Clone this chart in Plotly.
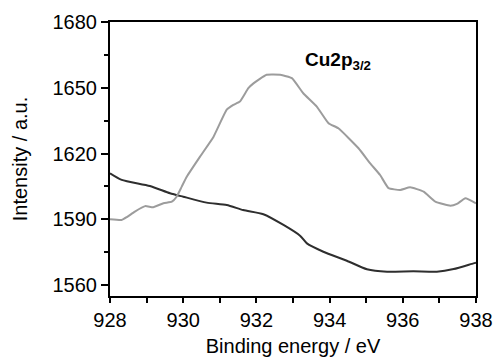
import plotly.graph_objects as go

# Gray curve (Cu2p3/2 peak)
x_peak = [928.0, 928.32, 928.46, 928.68, 928.96, 929.18, 929.46, 929.69, 929.82, 929.96,
          930.1, 930.46, 930.83, 931.19, 931.37, 931.55, 931.78, 931.92, 932.28, 932.65,
          932.97, 933.28, 933.65, 933.97, 934.24, 934.79, 935.11, 935.38, 935.61, 935.93,
          936.2, 936.57, 936.89, 937.3, 937.48, 937.71, 938.0]
y_peak = [1590.0, 1589.7, 1591.0, 1593.5, 1596.0, 1595.5, 1597.3, 1598.0, 1600.3, 1604.9,
          1609.5, 1618.6, 1627.7, 1640.0, 1642.2, 1643.7, 1649.8, 1652.0, 1655.9, 1655.9,
          1654.4, 1647.5, 1641.4, 1633.8, 1631.5, 1622.4, 1615.5, 1610.2, 1604.2, 1603.4,
          1604.6, 1602.6, 1598.0, 1596.2, 1597.0, 1599.6, 1597.3]

# Dark curve (background)
x_bg = [928.0, 928.32, 929.09, 929.64, 930.0, 930.64, 931.19, 931.64, 932.19, 932.74,
        933.2, 933.38, 933.83, 934.47, 935.02, 935.57, 936.29, 936.93, 937.39, 937.93, 938.0]
y_bg = [1611.0, 1608.0, 1605.2, 1601.9, 1600.3, 1597.6, 1596.5, 1594.2, 1592.3, 1587.4,
        1582.4, 1579.0, 1575.2, 1571.1, 1567.2, 1566.1, 1566.3, 1566.1, 1567.3, 1569.9, 1570.2]

x_ticks = [928, 930, 932, 934, 936, 938]
y_ticks = [1560, 1590, 1620, 1650, 1680]

FONT = "Liberation Sans, Arial, sans-serif"

fig = go.Figure()
fig.add_trace(go.Scatter(x=x_bg, y=y_bg, mode="lines",
                         line=dict(color="#2e2e2e", width=2, shape="spline", smoothing=0.6),
                         showlegend=False))
fig.add_trace(go.Scatter(x=x_peak, y=y_peak, mode="lines",
                         line=dict(color="#9c9c9c", width=2, shape="spline", smoothing=0.4),
                         showlegend=False))

fig.add_annotation(x=933.28, y=1662, xref="x", yref="y", xanchor="left", yanchor="middle",
                   text="<b>Cu2p<sub>3/2</sub></b>", showarrow=False,
                   font=dict(family=FONT, size=19, color="#000"))

fig.update_layout(
    width=494, height=363,
    margin=dict(l=110, r=18, t=22, b=67, autoexpand=False),
    paper_bgcolor="white", plot_bgcolor="white",
    font=dict(family=FONT, size=20, color="#000"),
    xaxis=dict(range=[928, 938], tickvals=x_ticks, ticktext=[str(v) for v in x_ticks],
               automargin=False,
               ticks="outside", ticklen=5, tickwidth=1.5, tickcolor="#000",
               minor=dict(dtick=1, tick0=928, ticks="outside", ticklen=5, tickwidth=1.5, tickcolor="#000"),
               showline=True, linecolor="#000", linewidth=2, mirror=True,
               showgrid=False, zeroline=False,
               tickfont=dict(size=20),
               title=dict(text="Binding energy / eV", font=dict(size=20), standoff=9)),
    yaxis=dict(range=[1555, 1680], tickvals=y_ticks, ticktext=[str(v) for v in y_ticks],
               automargin=False,
               ticks="outside", ticklen=7, tickwidth=1.5, tickcolor="#000",
               minor=dict(dtick=15, tick0=1560, ticks="outside", ticklen=4, tickwidth=1.5, tickcolor="#000"),
               showline=True, linecolor="#000", linewidth=2, mirror=True,
               showgrid=False, zeroline=False,
               tickfont=dict(size=20),
               title=dict(text="Intensity / a.u.", font=dict(size=20), standoff=20)),
)

fig.write_html("out.html")
